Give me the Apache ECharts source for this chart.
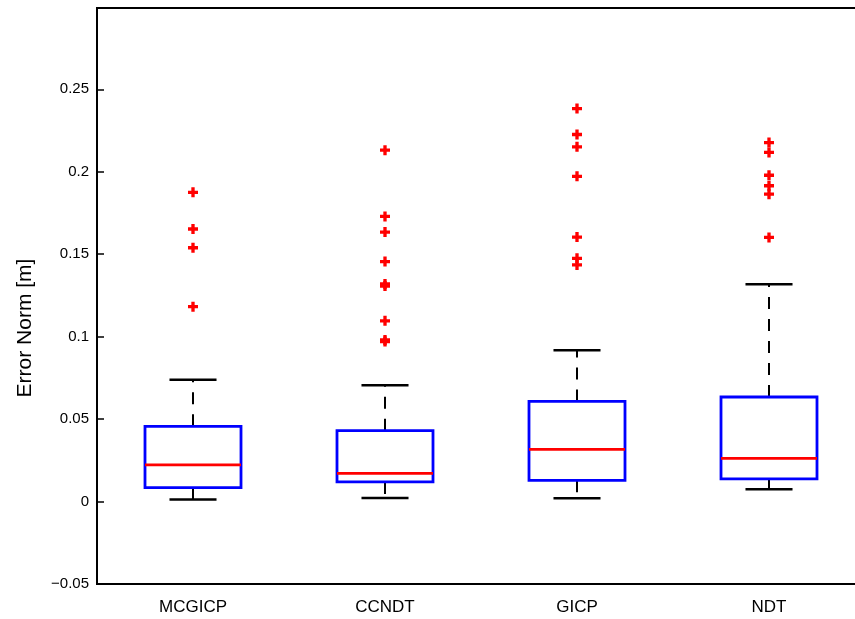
<!DOCTYPE html>
<html>
<head>
<meta charset="utf-8">
<script src="https://cdn.jsdelivr.net/npm/echarts@6/dist/echarts.min.js"></script>
<style>
html,body{margin:0;padding:0;background:#fff;}
#chart{width:855px;height:619px;}
</style>
</head>
<body>
<div id="chart"></div>
<script>
// ---- data ----
const categories = ['MCGICP', 'CCNDT', 'GICP', 'NDT'];
const whiskerLow  = [0.0012, 0.0022, 0.0020, 0.0074];
const q1          = [0.0085, 0.0119, 0.0129, 0.0137];
const median      = [0.0222, 0.0171, 0.0317, 0.0262];
const q3          = [0.0456, 0.0430, 0.0607, 0.0634];
const whiskerHigh = [0.0738, 0.0706, 0.0918, 0.1318];
const outliersMCGICP = [0.1875, 0.1653, 0.1539, 0.1182];
const outliersCCNDT  = [0.2131, 0.1729, 0.1634, 0.1455, 0.1320, 0.1307, 0.1096, 0.0980, 0.0970];
const outliersGICP   = [0.2383, 0.2226, 0.2151, 0.1972, 0.1604, 0.1475, 0.1435];
const outliersNDT    = [0.2177, 0.2117, 0.1979, 0.1915, 0.1864, 0.1602];
const yTicks = { min: -0.05, max: 0.2993, step: 0.05 };
const yTitle = 'Error Norm [m]';

// ---- build series data ----
const boxData = categories.map((c, i) => [i, whiskerLow[i], q1[i], median[i], q3[i], whiskerHigh[i]]);
const outlierSets = [outliersMCGICP, outliersCCNDT, outliersGICP, outliersNDT];
const outlierData = [];
outlierSets.forEach((arr, i) => arr.forEach(v => outlierData.push([i, v])));

const FONT = "'Liberation Sans', Arial, Helvetica, sans-serif";

function renderBox(params, api) {
  const x = api.value(0);
  const band = api.size([1, 0])[0];
  const boxW = band * 0.5;
  const capW = band * 0.245;
  const pLow = api.coord([x, api.value(1)]);
  const pQ1 = api.coord([x, api.value(2)]);
  const pMed = api.coord([x, api.value(3)]);
  const pQ3 = api.coord([x, api.value(4)]);
  const pHigh = api.coord([x, api.value(5)]);
  const cx = pQ1[0];
  const dash = { stroke: '#000', lineWidth: 2, lineDash: [12, 10], fill: null };
  const solid = { stroke: '#000', lineWidth: 2.5, fill: null };
  return {
    type: 'group',
    children: [
      { type: 'line', shape: { x1: cx, y1: pQ3[1], x2: cx, y2: pHigh[1] }, style: dash },
      { type: 'line', shape: { x1: cx, y1: pQ1[1], x2: cx, y2: pLow[1] }, style: dash },
      { type: 'line', shape: { x1: cx - capW / 2, y1: pHigh[1], x2: cx + capW / 2, y2: pHigh[1] }, style: solid },
      { type: 'line', shape: { x1: cx - capW / 2, y1: pLow[1], x2: cx + capW / 2, y2: pLow[1] }, style: solid },
      { type: 'rect', shape: { x: cx - boxW / 2, y: pQ3[1], width: boxW, height: pQ1[1] - pQ3[1] },
        style: { stroke: '#0000ff', lineWidth: 2.8, fill: null } },
      { type: 'line', shape: { x1: cx - boxW / 2, y1: pMed[1], x2: cx + boxW / 2, y2: pMed[1] },
        style: { stroke: '#ff0000', lineWidth: 2.8, fill: null } }
    ]
  };
}

const chart = echarts.init(document.getElementById('chart'), null, { renderer: 'canvas' });
chart.setOption({
  backgroundColor: '#ffffff',
  animation: false,
  grid: {
    left: 97, top: 8, right: -10, bottom: 35,
    containLabel: false,
    outerBoundsMode: 'none',
    show: true, borderColor: '#000', borderWidth: 2, backgroundColor: 'transparent'
  },
  xAxis: {
    type: 'category',
    data: categories,
    boundaryGap: true,
    axisLine: { show: true, onZero: false, lineStyle: { color: '#000', width: 2 } },
    axisTick: { show: false },
    axisLabel: { color: '#000', fontFamily: FONT, fontSize: 17, margin: 15 },
    splitLine: { show: false }
  },
  yAxis: {
    type: 'value',
    min: yTicks.min,
    max: yTicks.max,
    interval: yTicks.step,
    axisLine: { show: true, onZero: false, lineStyle: { color: '#000', width: 2 } },
    axisTick: { show: true, inside: true, length: 7, lineStyle: { color: '#000', width: 1.5 } },
    axisLabel: {
      color: '#000', fontFamily: FONT, fontSize: 15, margin: 8, showMaxLabel: false,
      formatter: v => String(parseFloat(v.toFixed(2))).replace('-', '\u2212')
    },
    splitLine: { show: false }
  },
  graphic: [{
    type: 'text',
    x: 25, y: 328,
    rotation: Math.PI / 2,
    style: {
      text: yTitle, fill: '#000', font: '21px ' + FONT,
      align: 'center', verticalAlign: 'middle'
    }
  }],
  series: [
    {
      type: 'custom',
      renderItem: renderBox,
      data: boxData,
      encode: { x: 0, y: [1, 2, 3, 4, 5] },
      z: 2
    },
    {
      type: 'scatter',
      data: outlierData,
      symbol: 'path://M3,0H6V3H9V6H6V9H3V6H0V3H3Z',
      symbolSize: 10,
      itemStyle: { color: '#ff0000', opacity: 1 },
      z: 3
    }
  ]
});
</script>
</body>
</html>
